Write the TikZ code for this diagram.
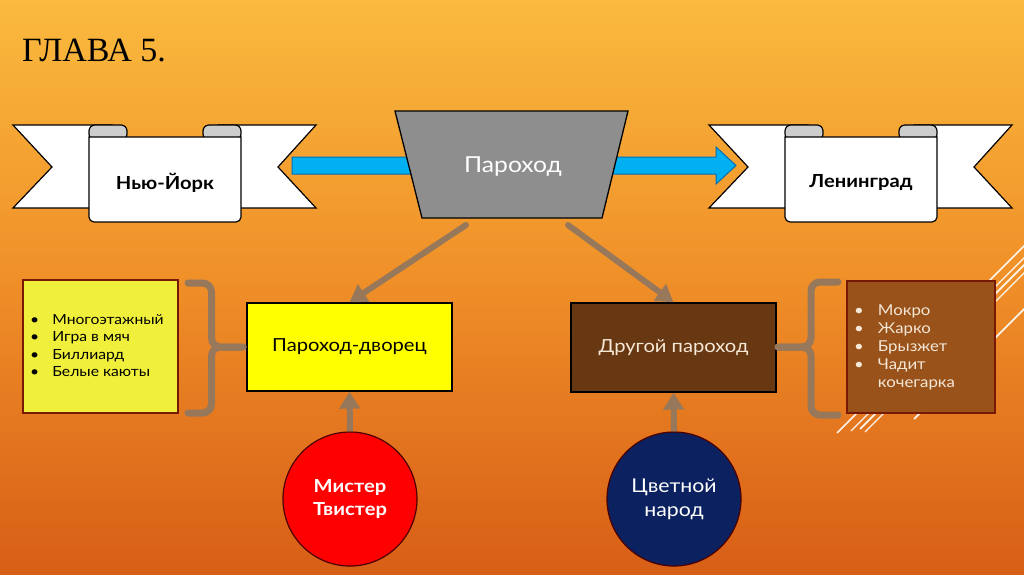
\documentclass[tikz,border=0pt]{standalone}
\usepackage{fontspec}
\newfontfamily\gfont[FakeStretch=1.12]{Lato}
\newfontfamily\titlefont{Liberation Serif}
\usetikzlibrary{arrows.meta}
\definecolor{bgtop}{RGB}{250,186,62}
\definecolor{bgmid}{RGB}{239,142,40}
\definecolor{bgbot}{RGB}{215,94,22}
\definecolor{connc}{RGB}{152,120,90}
\definecolor{curlgray}{RGB}{205,205,205}
\definecolor{shipgray}{RGB}{142,142,142}
\definecolor{arrowblue}{RGB}{0,176,240}
\definecolor{arrowedge}{RGB}{0,110,180}
\definecolor{palaceyellow}{RGB}{255,255,0}
\definecolor{listyellow}{RGB}{240,240,60}
\definecolor{otherbrown}{RGB}{104,56,18}
\definecolor{listbrown}{RGB}{152,82,26}
\definecolor{darkred}{RGB}{120,25,5}
\definecolor{navy}{RGB}{12,34,96}
\definecolor{redc}{RGB}{255,0,0}
\definecolor{lighttext}{RGB}{245,232,215}
\tikzset{
  ribbonpart/.style={draw=black, line width=1.2pt, fill=white, line join=miter},
  curlpart/.style={draw=black, line width=1.2pt, fill=curlgray, rounded corners=6pt},
  conn/.style={draw=connc, line width=6pt, -{Triangle[width=20pt,length=17pt]}},
  brace/.style={draw=connc, line width=7pt, rounded corners=9pt, line cap=round},
  boxnode/.style={draw, line width=1.3pt, inner sep=0pt},
  deco/.style={draw=white, line width=1.5pt, opacity=0.9}
}
\newcommand{\ribbonshape}{%
  \draw[ribbonpart] (13,125) -- (112,125) -- (112,208) -- (13,208) -- (52,167) -- cycle;
  \draw[ribbonpart] (316,125) -- (218,125) -- (218,208) -- (316,208) -- (278,167) -- cycle;
  \draw[curlpart] (89,140) -- (89,125) -- (127,125) -- (127,140) -- cycle;
  \draw[curlpart] (203,140) -- (203,125) -- (241,125) -- (241,140) -- cycle;
  \draw[ribbonpart] (89,137) [rounded corners=5pt] -- (89,222) -- (241,222) [sharp corners] -- (241,137) -- cycle;
}
\begin{document}
\begin{tikzpicture}[x=1pt,y=-1pt]
\useasboundingbox (0,0) rectangle (1024,574);
\begin{scope}[y=1pt]
  \shade[top color=bgtop, bottom color=bgbot, middle color=bgmid] (0,-574) rectangle (1024,0);
\end{scope}

% title
\node[anchor=base west, inner sep=0pt, font=\titlefont\fontsize{34}{40}\selectfont] (title) at (22,61) {ГЛАВА 5.};

% decorative lines
\begin{scope}
  \clip (0,0) rectangle (1024,574);
  \foreach \ys/\ye/\w in {246/433/1.6, 258/431/1.2, 265/429/1.8, 273/432/1.2, 309/419/1.8} {
    \draw[deco, line width=\w pt] (1030,\ys-6) -- (1024-\ye+\ys,\ye);
  }
\end{scope}

% blue arrow
\draw[draw=arrowedge, line width=1pt, fill=arrowblue] (292,157) -- (716,157) -- (716,147) -- (736,165.5) -- (716,184) -- (716,174) -- (292,174) -- cycle;

% ribbons
\ribbonshape
\node[font=\gfont\bfseries\fontsize{18}{20}\selectfont] (ny) at (165,183) {Нью-Йорк};
\begin{scope}[shift={(696,0)}]
  \ribbonshape
\end{scope}
\node[font=\gfont\bfseries\fontsize{18}{20}\selectfont] (len) at (861,183) {Ленинград};

% ship
\draw[draw=black, line width=1.3pt, fill=shipgray] (395,111) -- (628,111) -- (602,218) -- (422,218) -- cycle;
\node[text=white, font=\gfont\fontsize{22}{24}\selectfont] (ship) at (513,167) {Пароход};
\coordinate (s1) at (466,225);
\coordinate (s2) at (568,225);

% boxes
\node[boxnode, fill=palaceyellow, minimum width=205pt, minimum height=88pt, font=\gfont\fontsize{18}{20}\selectfont] (palace) at (349.5,347) {Пароход-дворец};
\node[boxnode, fill=otherbrown, text=lighttext, minimum width=205pt, minimum height=89pt, font=\gfont\fontsize{18}{20}\selectfont] (other) at (673.5,347.5) {Другой пароход};

\node[boxnode, draw=darkred, fill=listyellow, minimum width=155pt, minimum height=133pt] (leftlist) at (100.5,346.5) {};
\node[anchor=west, inner sep=0pt, font=\gfont\fontsize{14}{17.3}\selectfont] (lefttext) at (30,347) {%
  \begin{tabular}{@{}l@{\hspace{13pt}}l@{}}
  • & Многоэтажный\\
  • & Игра в мяч\\
  • & Биллиард\\
  • & Белые каюты
  \end{tabular}};

\node[boxnode, draw=darkred, fill=listbrown, minimum width=148pt, minimum height=132pt] (rightlist) at (921,347) {};
\node[anchor=west, inner sep=0pt, text=lighttext, font=\gfont\fontsize{15}{18}\selectfont] (righttext) at (854,348) {%
  \begin{tabular}{@{}l@{\hspace{14pt}}l@{}}
  • & Мокро\\
  • & Жарко\\
  • & Брызжет\\
  • & Чадит\\
    & кочегарка
  \end{tabular}};

% braces
\coordinate (lbnub) at (243,347);
\coordinate (rbnub) at (778,347);
\draw[brace] (188,283) -- (211.5,283) -- (211.5,347) -- (lbnub);
\draw[brace] (188,413) -- (211.5,413) -- (211.5,347) -- (lbnub);
\draw[brace] (838,282) -- (811,282) -- (811,347) -- (rbnub);
\draw[brace] (838,415) -- (811,415) -- (811,347) -- (rbnub);

% circles
\node[circle, draw=black!70!red, line width=1.2pt, fill=redc, minimum size=134pt, inner sep=0pt, text=white, align=center, font=\gfont\bfseries\fontsize{18}{23}\selectfont] (mister) at (350,499) {Мистер\\Твистер};
\node[circle, draw=black!70!red, line width=1.2pt, fill=navy, minimum size=134pt, inner sep=0pt, text=white, align=center, font=\gfont\fontsize{19}{24}\selectfont] (people) at (674,499) {Цветной\\народ};

% connectors
\draw[conn, line cap=round] (s1) -- (palace.north);
\draw[conn, line cap=round] (s2) -- (other.north);
\draw[conn] (mister.north) -- (palace.south);
\draw[conn] (people.north) -- (other.south);
\end{tikzpicture}
\end{document}
